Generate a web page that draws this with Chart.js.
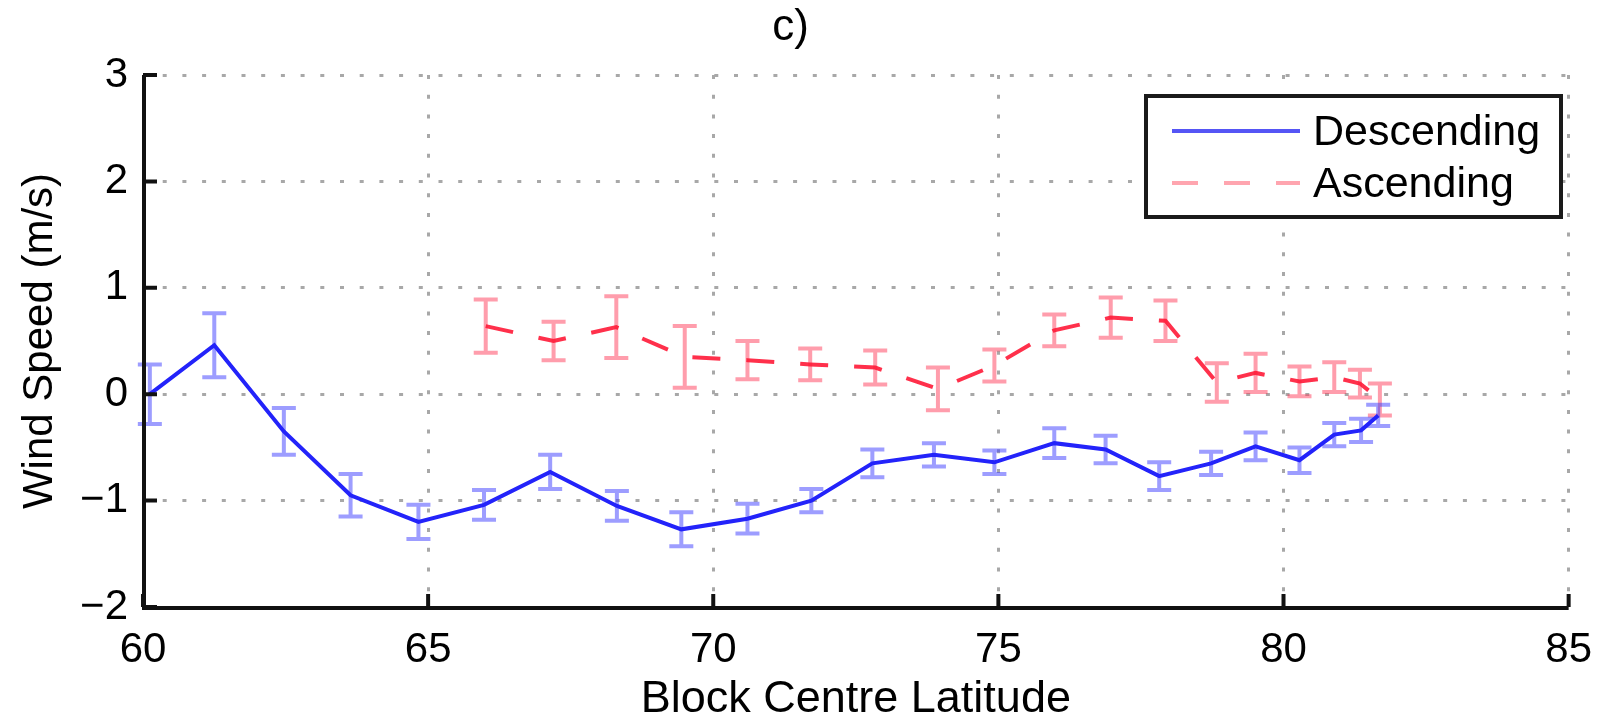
<!DOCTYPE html>
<html>
<head>
<meta charset="utf-8">
<script src="https://cdn.jsdelivr.net/npm/chart.js@4"></script>
<style>
  html, body { margin: 0; padding: 0; background: #fff; }
  #wrap { width: 1610px; height: 716px; }
</style>
</head>
<body>
<div id="wrap"><canvas id="myChart" width="1610" height="716"></canvas></div>
<script>
// values
const descLat = [60.12, 61.25, 62.47, 63.64, 64.83, 65.98, 67.14, 68.31, 69.44, 70.6, 71.72, 72.79,
  73.87, 74.93, 75.98, 76.88, 77.82, 78.73, 79.51, 80.28, 80.89, 81.36, 81.66]
const descSpeed = [0.0, 0.46, -0.35, -0.95, -1.2, -1.04, -0.73, -1.05, -1.27, -1.17, -1.0, -0.65,
  -0.57, -0.64, -0.46, -0.52, -0.77, -0.65, -0.49, -0.62, -0.38, -0.34, -0.2]
const descErr = [0.28, 0.3, 0.22, 0.2, 0.16, 0.14, 0.16, 0.14, 0.16, 0.14, 0.11, 0.13,
  0.11, 0.11, 0.14, 0.13, 0.13, 0.11, 0.13, 0.12, 0.11, 0.11, 0.1]

const ascLat = [66.01, 67.2, 68.3, 69.5, 70.6, 71.7, 72.84, 73.94, 74.93, 75.98, 76.97, 77.93,
  78.83, 79.51, 80.28, 80.89, 81.34, 81.69]
const ascSpeed = [0.64, 0.5, 0.63, 0.35, 0.32, 0.28, 0.25, 0.05, 0.27, 0.6, 0.72, 0.69,
  0.11, 0.2, 0.12, 0.16, 0.1, -0.05]
const ascErr = [0.25, 0.18, 0.29, 0.29, 0.18, 0.15, 0.16, 0.2, 0.15, 0.15, 0.19, 0.19,
  0.18, 0.18, 0.14, 0.14, 0.13, 0.15]

const xTicks = [60, 65, 70, 75, 80, 85]
const yTicks = [-2, -1, 0, 1, 2, 3]

const fontFamily = "'Liberation Sans', Arial, Helvetica, sans-serif"
const errColors = ['rgba(60, 60, 255, 0.5)', 'rgba(255, 60, 90, 0.5)']

function toPoints(xs, ys) {
  return xs.map((x, i) => ({ x: x, y: ys[i] }))
}

// error bars, drawn under each line through the chart scales
const errorBars = {
  id: 'errorBars',
  beforeDatasetDraw(chart, args) {
    const errs = [descErr, ascErr][args.index]
    const xs = [descLat, ascLat][args.index]
    const ys = [descSpeed, ascSpeed][args.index]
    const { ctx, scales } = chart
    ctx.save()
    ctx.strokeStyle = errColors[args.index]
    ctx.lineWidth = 4
    ctx.setLineDash([])
    xs.forEach((x, i) => {
      const px = scales.x.getPixelForValue(x)
      const top = scales.y.getPixelForValue(ys[i] + errs[i])
      const bot = scales.y.getPixelForValue(ys[i] - errs[i])
      ctx.beginPath()
      ctx.moveTo(px, top); ctx.lineTo(px, bot)
      ctx.moveTo(px - 12, top); ctx.lineTo(px + 12, top)
      ctx.moveTo(px - 12, bot); ctx.lineTo(px + 12, bot)
      ctx.stroke()
    })
    ctx.restore()
  }
}

// left and bottom axis lines with inward ticks, plus the boxed legend
const axesAndLegend = {
  id: 'axesAndLegend',
  afterDatasetsDraw(chart) {
    const { ctx, chartArea, scales } = chart
    ctx.save()
    ctx.strokeStyle = '#111'
    ctx.lineWidth = 4
    ctx.setLineDash([])
    ctx.beginPath()
    ctx.moveTo(chartArea.left + 1, chartArea.top)
    ctx.lineTo(chartArea.left + 1, chartArea.bottom + 1)
    ctx.lineTo(chartArea.right, chartArea.bottom + 1)
    yTicks.forEach(v => {
      const py = scales.y.getPixelForValue(v)
      ctx.moveTo(chartArea.left, py); ctx.lineTo(chartArea.left + 14, py)
    })
    xTicks.forEach(v => {
      const px = scales.x.getPixelForValue(v)
      ctx.moveTo(px, chartArea.bottom); ctx.lineTo(px, chartArea.bottom - 13)
    })
    ctx.stroke()

    // legend
    const lx = 1146, ly = 96, lw = 415, lh = 121
    ctx.fillStyle = '#fff'
    ctx.fillRect(lx, ly, lw, lh)
    ctx.strokeStyle = '#1a1a1a'
    ctx.strokeRect(lx, ly, lw, lh)

    ctx.lineWidth = 4
    ctx.strokeStyle = 'rgb(85, 85, 245)'
    ctx.beginPath(); ctx.moveTo(1172, 131); ctx.lineTo(1300, 131); ctx.stroke()
    ctx.strokeStyle = 'rgb(255, 165, 175)'
    ctx.setLineDash([26, 26])
    ctx.beginPath(); ctx.moveTo(1172, 183); ctx.lineTo(1300, 183); ctx.stroke()
    ctx.setLineDash([])

    ctx.fillStyle = '#000'
    ctx.font = '43px ' + fontFamily
    ctx.textBaseline = 'middle'
    ctx.textAlign = 'left'
    ctx.fillText(chart.data.datasets[0].label, 1313, 133)
    ctx.fillText(chart.data.datasets[1].label, 1313, 185)
    ctx.restore()
  }
}

const ctx = document.getElementById('myChart')

new Chart(ctx, {
  type: 'line',
  data: {
    datasets: [{
      label: 'Descending',
      data: toPoints(descLat, descSpeed),
      borderColor: 'rgb(35, 35, 250)',
      borderWidth: 4,
      pointRadius: 0,
      tension: 0,
      fill: false
    }, {
      label: 'Ascending',
      data: toPoints(ascLat, ascSpeed),
      borderColor: 'rgba(255, 25, 55, 0.9)',
      borderWidth: 4,
      borderDash: [28, 26],
      pointRadius: 0,
      tension: 0,
      fill: false
    }]
  },
  options: {
    responsive: false,
    animation: false,
    layout: { padding: { top: 0, right: 29, left: 0, bottom: 0 } },
    plugins: {
      legend: { display: false },
      tooltip: { enabled: false },
      title: {
        display: true,
        text: 'c)',
        color: '#000',
        font: { family: fontFamily, size: 44, weight: 'normal' },
        padding: { top: 1.4, bottom: 20.8 }
      }
    },
    scales: {
      x: {
        type: 'linear',
        min: 60,
        max: 85,
        afterBuildTicks: s => { s.ticks = xTicks.map(v => ({ value: v })) },
        afterFit: s => { s.height = 109 },
        grid: { color: '#a8a8a8', lineWidth: 3, drawTicks: false },
        border: { display: false, dash: [4, 15.7] },
        ticks: {
          color: '#000',
          padding: 18,
          maxRotation: 0,
          font: { family: fontFamily, size: 42 }
        },
        title: {
          display: true,
          text: 'Block Centre Latitude',
          color: '#000',
          font: { family: fontFamily, size: 45, lineHeight: 0.72 },
          padding: { top: 0, bottom: 0 }
        }
      },
      y: {
        type: 'linear',
        min: -2,
        max: 3,
        afterBuildTicks: s => { s.ticks = yTicks.map(v => ({ value: v })) },
        afterFit: s => { s.width = 143 },
        grid: { color: '#a8a8a8', lineWidth: 3, drawTicks: false },
        border: { display: false, dash: [4, 15.7] },
        ticks: {
          color: '#000',
          padding: 15,
          font: { family: fontFamily, size: 42 },
          callback: v => String(v).replace('-', '\u2212')
        },
        title: {
          display: true,
          text: 'Wind Speed (m/s)',
          color: '#000',
          font: { family: fontFamily, size: 42 },
          padding: { top: 15, bottom: 0 }
        }
      }
    }
  },
  plugins: [errorBars, axesAndLegend]
})
</script>
</body>
</html>
